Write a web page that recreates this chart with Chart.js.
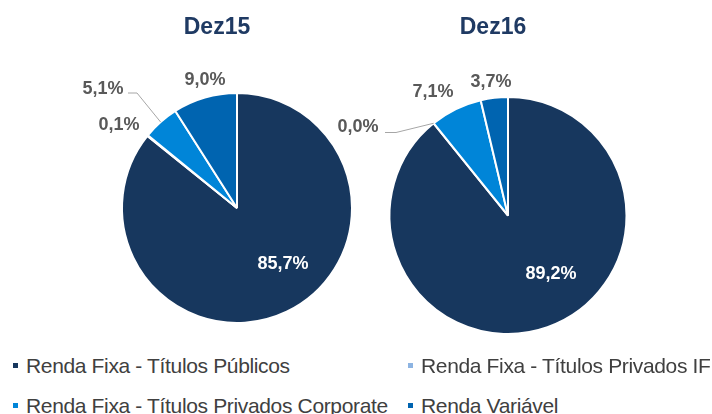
<!DOCTYPE html>
<html>
<head>
<meta charset="utf-8">
<script src="https://cdn.jsdelivr.net/npm/chart.js@4/dist/chart.umd.min.js"></script>
<style>
  body { margin: 0; background: #fff; width: 712px; height: 414px; overflow: hidden; position: relative; font-family: "Liberation Sans", Arial, sans-serif; }
  canvas { position: absolute; top: 0; }
  #c15 { left: 0; }
  #c16 { left: 300px; }
  .legend { position: absolute; left: 0; top: 0; width: 712px; }
  .legend-item { position: absolute; display: flex; align-items: center; font-family: "Liberation Sans", Arial, sans-serif; font-size: 21px; line-height: 21px; letter-spacing: -0.35px; color: #404040; white-space: nowrap; }
  .legend-item span.box { width: 5px; height: 5px; margin-right: 8px; display: inline-block; }
</style>
</head>
<body>
<canvas id="c15" width="356" height="340"></canvas>
<canvas id="c16" width="412" height="340"></canvas>
<div class="legend" id="legend"></div>
<script>
const categories = [
  'Renda Fixa - Títulos Públicos',
  'Renda Fixa - Títulos Privados IF',
  'Renda Fixa - Títulos Privados Corporate',
  'Renda Variável'
];
const dez15Values = [85.7, 0.1, 5.1, 9.0];
const dez16Values = [89.2, 0.0, 7.1, 3.7];
const sliceColors = ['#17375E', '#8DB4E2', '#0085D8', '#0064B0'];

const fmt = (v) => v.toFixed(1).replace('.', ',') + '%';

// draws the title, the value labels and the leader lines
const labelPlugin = {
  id: 'pieLabels',
  afterDraw(chart, args, opts) {
    const ctx = chart.ctx;
    const meta = chart.getDatasetMeta(0);
    const first = meta.data[0];
    const cx = first.x, cy = first.y;
    ctx.save();
    ctx.textAlign = 'center';
    ctx.textBaseline = 'middle';
    ctx.font = 'bold 23px "Liberation Sans", Arial, sans-serif';
    ctx.fillStyle = '#1F3A63';
    ctx.fillText(opts.title, cx + opts.titleOffset[0], cy + opts.titleOffset[1]);

    ctx.font = 'bold 18px "Liberation Sans", Arial, sans-serif';
    const values = chart.data.datasets[0].data;
    opts.labels.forEach((lab, i) => {
      const arc = meta.data[i];
      const mid = (arc.startAngle + arc.endAngle) / 2;
      if (lab.leader) {
        const ex = cx + Math.cos(mid) * arc.outerRadius;
        const ey = cy + Math.sin(mid) * arc.outerRadius;
        ctx.strokeStyle = '#A6A6A6';
        ctx.lineWidth = 1;
        ctx.beginPath();
        ctx.moveTo(cx + lab.leader[0][0], cy + lab.leader[0][1]);
        ctx.lineTo(cx + lab.leader[1][0], cy + lab.leader[1][1]);
        ctx.lineTo(ex, ey);
        ctx.stroke();
      }
      ctx.fillStyle = lab.color || '#595959';
      ctx.fillText(fmt(values[i]), cx + lab.pos[0], cy + lab.pos[1]);
    });
    ctx.restore();
  }
};

const makePie = (id, values, padding, pluginOpts) => {
  return new Chart(document.getElementById(id), {
    type: 'pie',
    data: {
      labels: categories,
      datasets: [{
        data: values,
        backgroundColor: sliceColors,
        borderColor: '#ffffff',
        borderWidth: 2
      }]
    },
    options: {
      responsive: false,
      animation: false,
      layout: { padding: padding },
      plugins: {
        legend: { display: false },
        tooltip: { enabled: false },
        pieLabels: pluginOpts
      }
    },
    plugins: [labelPlugin]
  });
};

makePie('c15', dez15Values, { left: 121, right: 3, top: 92, bottom: 16 }, {
  title: 'Dez15',
  titleOffset: [-20, -180],
  labels: [
    { pos: [46, 56], color: '#ffffff' },
    { pos: [-118, -83] },
    { pos: [-134, -119], leader: [[-109, -115], [-100, -115]] },
    { pos: [-32, -128] }
  ]
});

makePie('c16', dez16Values, { left: 88, right: 84, top: 96, bottom: 5 }, {
  title: 'Dez16',
  titleOffset: [-15, -188],
  labels: [
    { pos: [43, 59], color: '#ffffff' },
    { pos: [-150, -88], leader: [[-123, -83], [-112, -83]] },
    { pos: [-75, -123] },
    { pos: [-17, -133] }
  ]
});

// legend built from the categories
const legendPos = [[13, 355], [408, 355], [13, 395], [408, 395]];
const legendEl = document.getElementById('legend');
categories.forEach((name, i) => {
  const item = document.createElement('div');
  item.className = 'legend-item';
  item.style.left = legendPos[i][0] + 'px';
  item.style.top = legendPos[i][1] + 'px';
  const box = document.createElement('span');
  box.className = 'box';
  box.style.background = sliceColors[i];
  item.appendChild(box);
  item.appendChild(document.createTextNode(name));
  legendEl.appendChild(item);
});
</script>
</body>
</html>
